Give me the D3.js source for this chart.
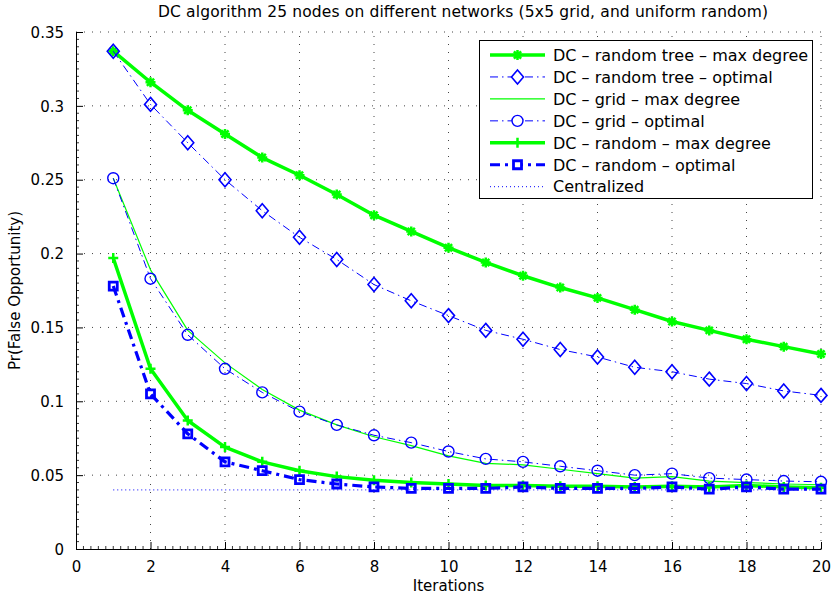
<!DOCTYPE html>
<html><head><meta charset="utf-8">
<script src="https://cdn.jsdelivr.net/npm/d3@7"></script>
<style>body{margin:0;background:#fff} text{font-family:"DejaVu Sans",sans-serif;fill:#000}</style>
</head><body><svg id="c" width="833" height="599"></svg>
<script>
const title = "DC algorithm 25 nodes on different networks (5x5 grid, and uniform random)";
const xLabel = "Iterations";
const yLabel = "Pr(False Opportunity)";
const iterations = [1,2,3,4,5,6,7,8,9,10,11,12,13,14,15,16,17,18,19,20];
const xTicks = [0,2,4,6,8,10,12,14,16,18,20];
const yTicks = [0,0.05,0.1,0.15,0.2,0.25,0.3,0.35];
const yTickLabels = ["0","0.05","0.1","0.15","0.2","0.25","0.3","0.35"];
const seriesNames = ["DC \u2013 random tree \u2013 max degree","DC \u2013 random tree \u2013 optimal","DC \u2013 grid \u2013 max degree","DC \u2013 grid \u2013 optimal","DC \u2013 random \u2013 max degree","DC \u2013 random \u2013 optimal","Centralized"];
const treeMax = [0.337,0.316,0.297,0.281,0.265,0.253,0.240,0.226,0.215,0.204,0.194,0.185,0.177,0.170,0.162,0.154,0.148,0.142,0.137,0.132];
const treeOpt = [0.337,0.301,0.275,0.250,0.229,0.211,0.196,0.179,0.168,0.158,0.148,0.142,0.135,0.130,0.123,0.120,0.115,0.112,0.107,0.104];
const gridMax = [0.251,0.189,0.148,0.126,0.108,0.094,0.084,0.076,0.070,0.063,0.058,0.057,0.054,0.051,0.048,0.049,0.046,0.045,0.044,0.0435];
const gridOpt = [0.251,0.183,0.145,0.122,0.106,0.093,0.084,0.077,0.072,0.066,0.061,0.059,0.056,0.053,0.050,0.051,0.048,0.047,0.046,0.0455];
const randMax = [0.197,0.122,0.087,0.069,0.059,0.053,0.049,0.0465,0.045,0.044,0.043,0.043,0.0425,0.0425,0.042,0.0425,0.042,0.043,0.042,0.0415];
const randOpt = [0.178,0.105,0.078,0.059,0.053,0.047,0.044,0.042,0.041,0.041,0.041,0.042,0.041,0.041,0.041,0.042,0.0405,0.042,0.0405,0.0405];
const central = [0.04,0.04,0.04,0.04,0.04,0.04,0.04,0.04,0.04,0.04,0.04,0.04,0.04,0.04,0.04,0.04,0.04,0.04,0.04,0.04];

const GREEN = "#00ff00", BLUE = "#0000ff";
const styles = [
  {data: treeMax, color: GREEN, width: 3.5, dash: null, marker: "asterisk"},
  {data: treeOpt, color: BLUE, width: 1, dash: "8,4,1.5,4", marker: "diamond"},
  {data: gridMax, color: GREEN, width: 1.2, dash: null, marker: null},
  {data: gridOpt, color: BLUE, width: 1, dash: "8,4,1.5,4", marker: "circle"},
  {data: randMax, color: GREEN, width: 3.5, dash: null, marker: "plus"},
  {data: randOpt, color: BLUE, width: 3.2, dash: "10,5,3,5", marker: "square"},
  {data: central, color: BLUE, width: 1, dash: "1,3", marker: null}
];

const svg = d3.select("#c");
const L = 76, R = 821, T = 32, B = 549;
const x = d3.scaleLinear().domain([0,20]).range([L,R]);
const y = d3.scaleLinear().domain([0,0.35]).range([B,T]);

// grid
const g = svg.append("g");
g.selectAll(".vg").data(xTicks.slice(1)).enter().append("line")
  .attr("x1",d=>x(d)).attr("x2",d=>x(d)).attr("y1",B).attr("y2",T)
  .attr("stroke","#444").attr("stroke-width",1).attr("stroke-dasharray","1,7");
g.selectAll(".hg").data(yTicks.slice(1)).enter().append("line")
  .attr("x1",L).attr("x2",R).attr("y1",d=>y(d)).attr("y2",d=>y(d))
  .attr("stroke","#444").attr("stroke-width",1).attr("stroke-dasharray","1,7");

// axes
const xAxis = d3.axisBottom(x).tickValues(xTicks).tickSizeInner(-7).tickSizeOuter(0).tickPadding(12);
const yAxis = d3.axisLeft(y).tickValues(yTicks).tickFormat((d,i)=>yTickLabels[i]).tickSizeInner(-7).tickSizeOuter(0).tickPadding(12);
const minorX = [], minorY = [];
xTicks.slice(0,-1).forEach(t=>{ for(let k=1;k<10;k++) minorX.push(t+k*0.2); });
yTicks.slice(0,-1).forEach(t=>{ for(let k=1;k<10;k++) minorY.push(t+k*0.005); });
svg.append("g").selectAll("line").data(minorX).enter().append("line")
  .attr("x1",d=>x(d)).attr("x2",d=>x(d)).attr("y1",B).attr("y2",B-3).attr("stroke","#000").attr("stroke-width",0.8);
svg.append("g").selectAll("line").data(minorY).enter().append("line")
  .attr("x1",L).attr("x2",L+3).attr("y1",d=>y(d)).attr("y2",d=>y(d)).attr("stroke","#000").attr("stroke-width",0.8);
const gx = svg.append("g").attr("transform",`translate(0,${B})`).call(xAxis);
const gy = svg.append("g").attr("transform",`translate(${L},0)`).call(yAxis);
[gx,gy].forEach(a=>{
  a.selectAll("text").style("font-family","DejaVu Sans").style("font-size","15px");
  a.select(".domain").attr("stroke","#000");
});
gx.selectAll("text").attr("dy","0.71em");
gy.selectAll(".tick text").attr("dy","0.35em");

// series
function markerPath(type){
  switch(type){
    case "asterisk": return "M-5,0L5,0M0,-5L0,5M-3.6,-3.6L3.6,3.6M-3.6,3.6L3.6,-3.6";
    case "plus": return "M-5,0L5,0M0,-5L0,5";
    case "diamond": return "M0,-7L6,0L0,7L-6,0Z";
    case "circle": return "M5.5,0A5.5,5.5 0 1 1 -5.5,0A5.5,5.5 0 1 1 5.5,0Z";
    case "square": return "M-4,-4L4,-4L4,4L-4,4Z";
  }
  return null;
}
const mStroke = {asterisk:2.5, plus:2.5, diamond:1.6, circle:1.4, square:2.8};
const line = d3.line().x((d,i)=>x(iterations[i])).y(d=>y(d));
const plot = svg.append("g");
styles.forEach(s=>{
  plot.append("path").attr("d",line(s.data)).attr("fill","none").attr("stroke",s.color)
    .attr("stroke-width",s.width).attr("stroke-dasharray",s.dash).attr("stroke-linejoin","round");
  if(s.marker){
    plot.append("g").selectAll("path").data(s.data).enter().append("path")
      .attr("transform",(d,i)=>`translate(${x(iterations[i])},${y(d)})`)
      .attr("d",markerPath(s.marker)).attr("fill","none").attr("stroke",s.color)
      .attr("stroke-width",mStroke[s.marker]);
  }
});

// title / labels
svg.append("text").attr("x",158).attr("y",17).attr("text-anchor","start").style("font-size","15.5px")
  .attr("textLength",610).attr("lengthAdjust","spacing").text(title);
svg.append("text").attr("x",x(10)).attr("y",591).attr("text-anchor","middle").style("font-size","15px").text(xLabel);
svg.append("text").attr("transform",`translate(20,${(T+B)/2}) rotate(-90)`).attr("text-anchor","middle").style("font-size","15px").text(yLabel);

// legend
const lg = svg.append("g");
lg.append("rect").attr("x",479.5).attr("y",40.5).attr("width",333).attr("height",158).attr("fill","#fff").attr("stroke","#000").attr("stroke-width",1);
styles.forEach((s,i)=>{
  const cy = 55 + i*21.95;
  lg.append("line").attr("x1",490).attr("x2",545).attr("y1",cy).attr("y2",cy).attr("stroke",s.color)
    .attr("stroke-width",s.width).attr("stroke-dasharray",s.dash);
  if(s.marker){
    lg.append("path").attr("transform",`translate(517.5,${cy})`).attr("d",markerPath(s.marker))
      .attr("fill","#fff").attr("stroke",s.color).attr("stroke-width",mStroke[s.marker]);
  }
  lg.append("text").attr("x",553).attr("y",cy).attr("dy","0.36em").style("font-size","16px").text(seriesNames[i]);
});
</script></body></html>
